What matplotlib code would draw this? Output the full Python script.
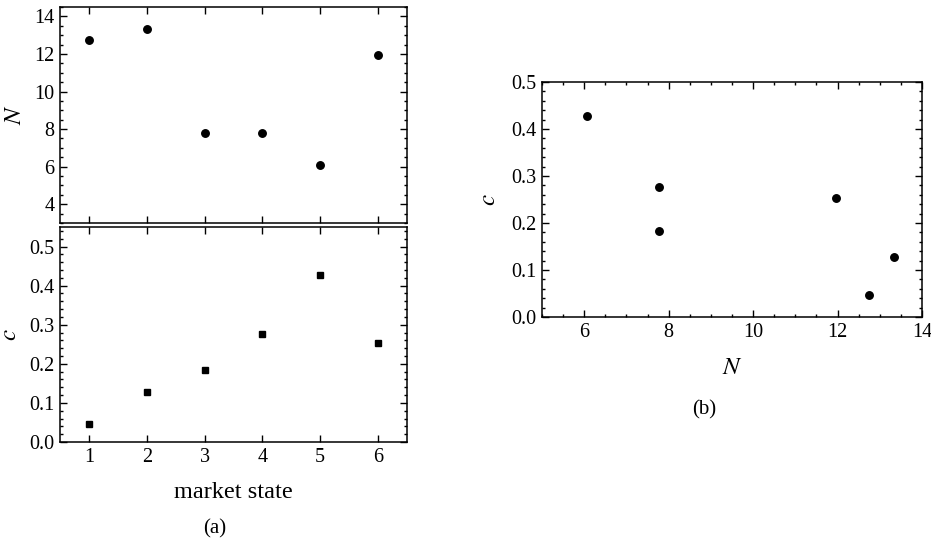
import matplotlib
matplotlib.use("Agg")
import matplotlib.pyplot as plt
from matplotlib.ticker import MultipleLocator

plt.rcParams['font.family'] = ['Liberation Serif', 'DejaVu Serif']
plt.rcParams['mathtext.fontset'] = 'stix'

market_state = [1, 2, 3, 4, 5, 6]
N_values = [12.75, 13.34, 7.78, 7.78, 6.07, 11.97]
c_values = [0.046, 0.127, 0.184, 0.276, 0.427, 0.253]
N_ticks = [4, 6, 8, 10, 12, 14]
c_ticks = [0.0, 0.1, 0.2, 0.3, 0.4, 0.5]
Nx_ticks = [6, 8, 10, 12, 14]

fig = plt.figure(figsize=(9.31, 5.42), dpi=100)

def style(ax):
    ax.tick_params(which='both', direction='in', top=True, right=True, labelsize=14.5, width=1.0)
    ax.tick_params(which='major', length=5, pad=4)
    ax.tick_params(which='minor', length=2.5)
    for s in ax.spines.values():
        s.set_linewidth(1.1)

ax1 = fig.add_axes([0.0644, 0.5886, 0.3727, 0.3985])
ax2 = fig.add_axes([0.0644, 0.1845, 0.3727, 0.3967])
ax3 = fig.add_axes([0.5822, 0.4151, 0.4082, 0.4336])

ax1.plot(market_state, N_values, 'o', color='black', markersize=5.4)
ax1.set_xlim(0.5, 6.5)
ax1.set_ylim(3, 14.5)
ax1.set_xticks(market_state)
ax1.set_yticks(N_ticks)
ax1.yaxis.set_minor_locator(MultipleLocator(0.5))
style(ax1)
ax1.tick_params(labelbottom=False)
ax1.set_ylabel('$N$', fontsize=18, labelpad=6)

ax2.plot(market_state, c_values, 's', color='black', markersize=4.6)
ax2.set_xlim(0.5, 6.5)
ax2.set_ylim(0, 0.55)
ax2.set_xticks(market_state)
ax2.set_yticks(c_ticks)
ax2.yaxis.set_minor_locator(MultipleLocator(0.02))
style(ax2)
ax2.set_ylabel('$c$', fontsize=18, labelpad=6)
ax2.set_xlabel('market state', fontsize=17.5, labelpad=11)

ax3.plot(N_values, c_values, 'o', color='black', markersize=5.4)
ax3.set_xlim(5, 14)
ax3.set_ylim(0, 0.5)
ax3.set_xticks(Nx_ticks)
ax3.set_yticks(c_ticks)
ax3.xaxis.set_minor_locator(MultipleLocator(0.5))
ax3.yaxis.set_minor_locator(MultipleLocator(0.02))
style(ax3)
ax3.set_ylabel('$c$', fontsize=18, labelpad=8)
ax3.set_xlabel('$N$', fontsize=18, labelpad=11)

fig.text(215/931, 1 - 529/542, '(a)', ha='center', va='center', fontsize=15)
fig.text(704/931, 1 - 410/542, '(b)', ha='center', va='center', fontsize=15)

fig.savefig('out.png', dpi=100)
